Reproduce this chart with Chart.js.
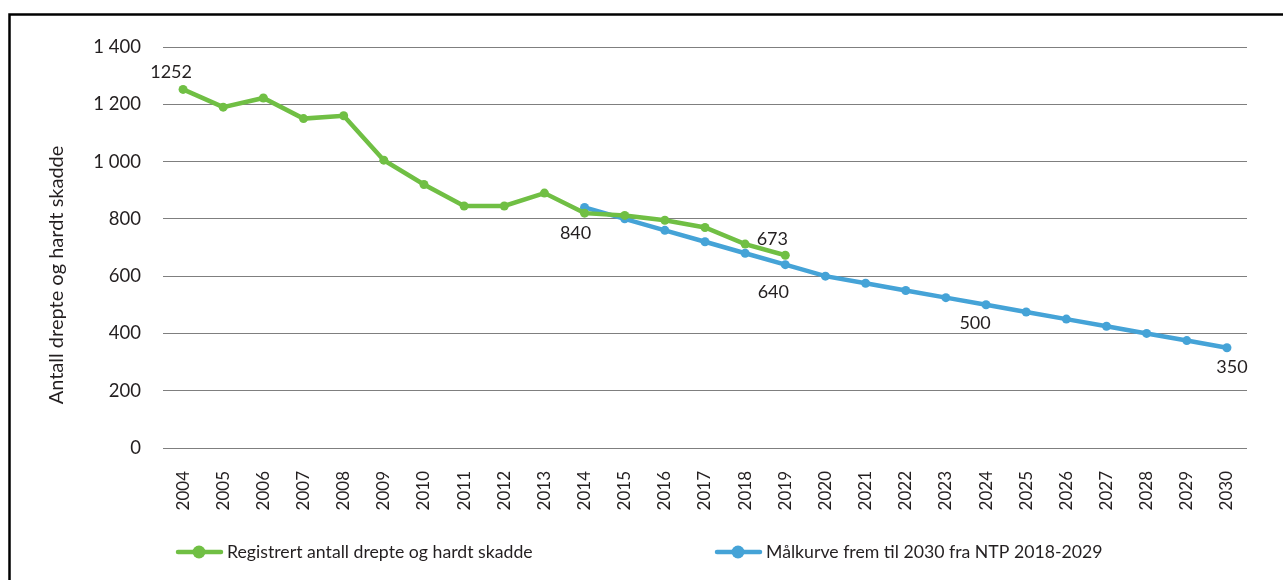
<!DOCTYPE html>
<html lang="no">
<head>
<meta charset="utf-8">
<title>Drepte og hardt skadde</title>
<script src="https://cdn.jsdelivr.net/npm/chart.js@4/dist/chart.umd.min.js"></script>
<style>
  html, body { margin: 0; padding: 0; background: #fff; }
  #wrap { position: relative; width: 1283px; height: 580px; }
</style>
</head>
<body>
<div id="wrap"><canvas id="c" width="1283" height="580"></canvas></div>
<script>
// Years on the x axis
const years = ['2004','2005','2006','2007','2008','2009','2010','2011','2012','2013','2014','2015','2016','2017','2018','2019','2020','2021','2022','2023','2024','2025','2026','2027','2028','2029','2030'];

// Registered killed and seriously injured, 2004–2019
const registrert = [1252, 1190, 1222, 1150, 1160, 1005, 920, 845, 845, 890, 820, 812, 795, 770, 712, 673,
                    null, null, null, null, null, null, null, null, null, null, null];

// Target curve towards 2030 (NTP 2018–2029), 2014–2030
const malkurve = [null, null, null, null, null, null, null, null, null, null,
                  840, 800, 760, 720, 680, 640, 600, 575, 550, 525, 500, 475, 450, 425, 400, 375, 350];

// Y axis tick values
const yTicks = [0, 200, 400, 600, 800, 1000, 1200, 1400];

const seriesNames = ['Registrert antall drepte og hardt skadde', 'Målkurve frem til 2030 fra NTP 2018-2029'];
const yTitle = 'Antall drepte og hardt skadde';
const GREEN = '#70bf44';
const BLUE = '#45a3d7';
const FONT = 'Lato, "Open Sans", sans-serif';
const TEXT = '#231f20';

// Which points carry a value label, and where the label sits relative to the point
const valueLabels = [
  { ds: 0, year: '2004', dx: -12, dy: -17 },
  { ds: 1, year: '2014', dx: -9,  dy: 26 },
  { ds: 0, year: '2019', dx: -13, dy: -16 },
  { ds: 1, year: '2019', dx: -12, dy: 28 },
  { ds: 1, year: '2024', dx: -11, dy: 18 },
  { ds: 1, year: '2030', dx: 5,   dy: 19 }
];

const fmt = v => v >= 1000 ? String(v).replace(/\B(?=(\d{3})+(?!\d))/g, ' ') : String(v);

const framePlugin = {
  id: 'frame',
  afterDraw(chart) {
    const ctx = chart.ctx;
    ctx.save();
    ctx.strokeStyle = '#000';
    ctx.lineWidth = 2.5;
    ctx.beginPath();
    ctx.moveTo(9.5, 600);
    ctx.lineTo(9.5, 14.5);
    ctx.lineTo(1300, 14.5);
    ctx.stroke();
    ctx.restore();
  }
};

// Vertical axis title, placed beside the tick labels
const yTitlePlugin = {
  id: 'yTitle',
  afterDraw(chart) {
    const ctx = chart.ctx;
    ctx.save();
    ctx.translate(57, 275);
    ctx.rotate(-Math.PI / 2);
    ctx.font = '20px ' + FONT;
    ctx.fillStyle = TEXT;
    ctx.textAlign = 'center';
    ctx.textBaseline = 'middle';
    ctx.fillText(yTitle, 0, 0);
    ctx.restore();
  }
};

const valueLabelPlugin = {
  id: 'valueLabels',
  afterDatasetsDraw(chart) {
    const ctx = chart.ctx;
    const xs = chart.scales.x, ys = chart.scales.y;
    ctx.save();
    ctx.font = '18px ' + FONT;
    ctx.fillStyle = TEXT;
    ctx.textAlign = 'center';
    ctx.textBaseline = 'middle';
    valueLabels.forEach(l => {
      const i = years.indexOf(l.year);
      const v = chart.data.datasets[l.ds].data[i];
      if (v == null) return;
      const x = xs.getPixelForValue(i);
      const y = ys.getPixelForValue(v);
      ctx.fillText(String(v), x + l.dx, y + l.dy);
    });
    ctx.restore();
  }
};

const legendPlugin = {
  id: 'lineLegend',
  afterDraw(chart) {
    const ctx = chart.ctx;
    const starts = [176, 715];
    const y = 552;
    ctx.save();
    chart.data.datasets.forEach((ds, k) => {
      const x0 = starts[k];
      ctx.strokeStyle = ds.borderColor;
      ctx.lineWidth = 4.5;
      ctx.lineCap = 'round';
      ctx.beginPath();
      ctx.moveTo(x0 + 2, y);
      ctx.lineTo(x0 + 45, y);
      ctx.stroke();
      ctx.fillStyle = ds.borderColor;
      ctx.beginPath();
      ctx.arc(x0 + 23, y, 6.5, 0, Math.PI * 2);
      ctx.fill();
      ctx.font = '17.7px ' + FONT;
      ctx.fillStyle = TEXT;
      ctx.textAlign = 'left';
      ctx.textBaseline = 'middle';
      ctx.fillText(ds.label, x0 + 51, y);
    });
    ctx.restore();
  }
};

new Chart(document.getElementById('c'), {
  type: 'line',
  data: {
    labels: years,
    datasets: [
      {
        label: seriesNames[0],
        data: registrert,
        borderColor: GREEN,
        backgroundColor: GREEN,
        borderWidth: 4.5,
        pointRadius: 4.5,
        pointHoverRadius: 4.5,
        pointBorderWidth: 0,
        tension: 0,
        spanGaps: false
      },
      {
        label: seriesNames[1],
        data: malkurve,
        borderColor: BLUE,
        backgroundColor: BLUE,
        borderWidth: 4.5,
        pointRadius: 4.5,
        pointHoverRadius: 4.5,
        pointBorderWidth: 0,
        tension: 0,
        spanGaps: false
      }
    ]
  },
  options: {
    responsive: false,
    animation: false,
    devicePixelRatio: 1,
    layout: { padding: { left: 50, right: 36, top: 47, bottom: 0 } },
    plugins: {
      legend: { display: false },
      tooltip: { enabled: false }
    },
    scales: {
      x: {
        type: 'category',
        offset: true,
        grid: { display: false },
        border: { display: false },
        ticks: {
          minRotation: 90,
          maxRotation: 90,
          autoSkip: false,
          padding: 15,
          color: TEXT,
          font: { family: FONT, size: 17 }
        },
        afterFit(scale) { scale.height = 132; }
      },
      y: {
        min: 0,
        max: 1400,
        afterBuildTicks(scale) { scale.ticks = yTicks.map(v => ({ value: v })); },
        grid: { color: '#7f7f7f', lineWidth: 1, drawTicks: false },
        border: { display: false },
        ticks: {
          padding: 22,
          color: TEXT,
          font: { family: FONT, size: 18.5 },
          callback: v => fmt(v)
        },
        afterFit(scale) { scale.width = 113; }
      }
    }
  },
  plugins: [framePlugin, yTitlePlugin, valueLabelPlugin, legendPlugin]
});
</script>
</body>
</html>
